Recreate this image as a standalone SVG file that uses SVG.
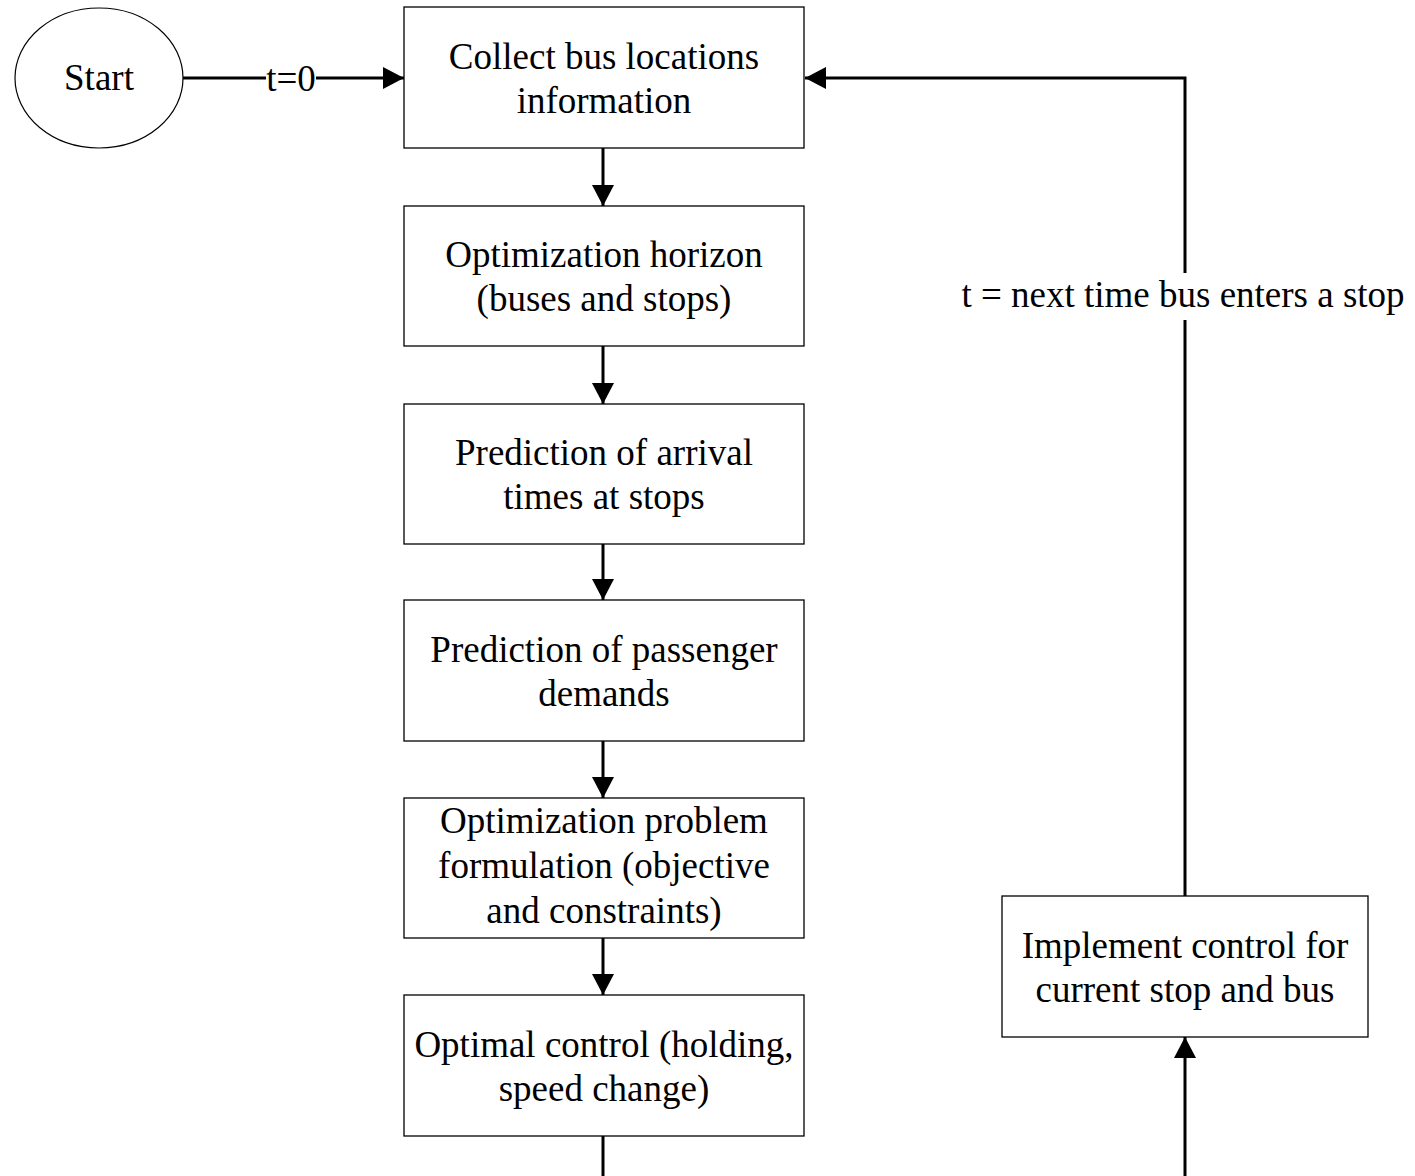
<svg xmlns="http://www.w3.org/2000/svg" width="1415" height="1176" viewBox="0 0 1415 1176">
<style>
.box{fill:#fff;stroke:#000;stroke-width:1.3}
.t{font-family:"Liberation Serif","Times New Roman",serif;font-size:37px;fill:#000;text-anchor:middle}
.c{stroke:#000;stroke-width:3;fill:none}
</style>
<defs>
<marker id="ah" markerWidth="21" markerHeight="22" viewBox="0 0 21 22" refX="21" refY="11" orient="auto" markerUnits="userSpaceOnUse">
<path d="M0,0 L21,11 L0,22 Z" fill="#000"/>
</marker>
</defs>
<rect width="1415" height="1176" fill="#fff"/>
<g id="connectors">
<line class="c" x1="183" y1="78" x2="266" y2="78"/>
<line class="c" x1="316" y1="78" x2="404" y2="78" marker-end="url(#ah)"/>
<text class="t" x="291" y="91">t=0</text>
<line class="c" x1="603" y1="148" x2="603" y2="206" marker-end="url(#ah)"/>
<line class="c" x1="603" y1="346" x2="603" y2="404" marker-end="url(#ah)"/>
<line class="c" x1="603" y1="544" x2="603" y2="600" marker-end="url(#ah)"/>
<line class="c" x1="603" y1="741" x2="603" y2="798" marker-end="url(#ah)"/>
<line class="c" x1="603" y1="938" x2="603" y2="995" marker-end="url(#ah)"/>
<line class="c" x1="603" y1="1136" x2="603" y2="1180"/>
<line class="c" x1="1185" y1="1180" x2="1185" y2="1037" marker-end="url(#ah)"/>
<polyline class="c" points="1185,896 1185,320"/>
<polyline class="c" points="1185,273 1185,78 805,78" marker-end="url(#ah)"/>
<text class="t" x="1183" y="307">t = next time bus enters a stop</text>
</g>
<g id="start">
<ellipse cx="99" cy="78" rx="84" ry="70" fill="#fff" stroke="#000" stroke-width="1.2"/>
<text class="t" x="99" y="90">Start</text>
</g>
<g id="collect">
<rect class="box" x="404" y="7" width="400" height="141"/>
<text class="t" x="604" y="69">Collect bus locations</text>
<text class="t" x="604" y="113">information</text>
</g>
<g id="horizon">
<rect class="box" x="404" y="206" width="400" height="140"/>
<text class="t" x="604" y="267">Optimization horizon</text>
<text class="t" x="604" y="311">(buses and stops)</text>
</g>
<g id="arrival">
<rect class="box" x="404" y="404" width="400" height="140"/>
<text class="t" x="604" y="465">Prediction of arrival</text>
<text class="t" x="604" y="509">times at stops</text>
</g>
<g id="demand">
<rect class="box" x="404" y="600" width="400" height="141"/>
<text class="t" x="604" y="662">Prediction of passenger</text>
<text class="t" x="604" y="706">demands</text>
</g>
<g id="formulation">
<rect class="box" x="404" y="798" width="400" height="140"/>
<text class="t" x="604" y="833">Optimization problem</text>
<text class="t" x="604" y="878">formulation (objective</text>
<text class="t" x="604" y="923">and constraints)</text>
</g>
<g id="optimal">
<rect class="box" x="404" y="995" width="400" height="141"/>
<text class="t" x="604" y="1057">Optimal control (holding,</text>
<text class="t" x="604" y="1101">speed change)</text>
</g>
<g id="implement">
<rect class="box" x="1002" y="896" width="366" height="141"/>
<text class="t" x="1185" y="958">Implement control for</text>
<text class="t" x="1185" y="1002">current stop and bus</text>
</g>
</svg>
